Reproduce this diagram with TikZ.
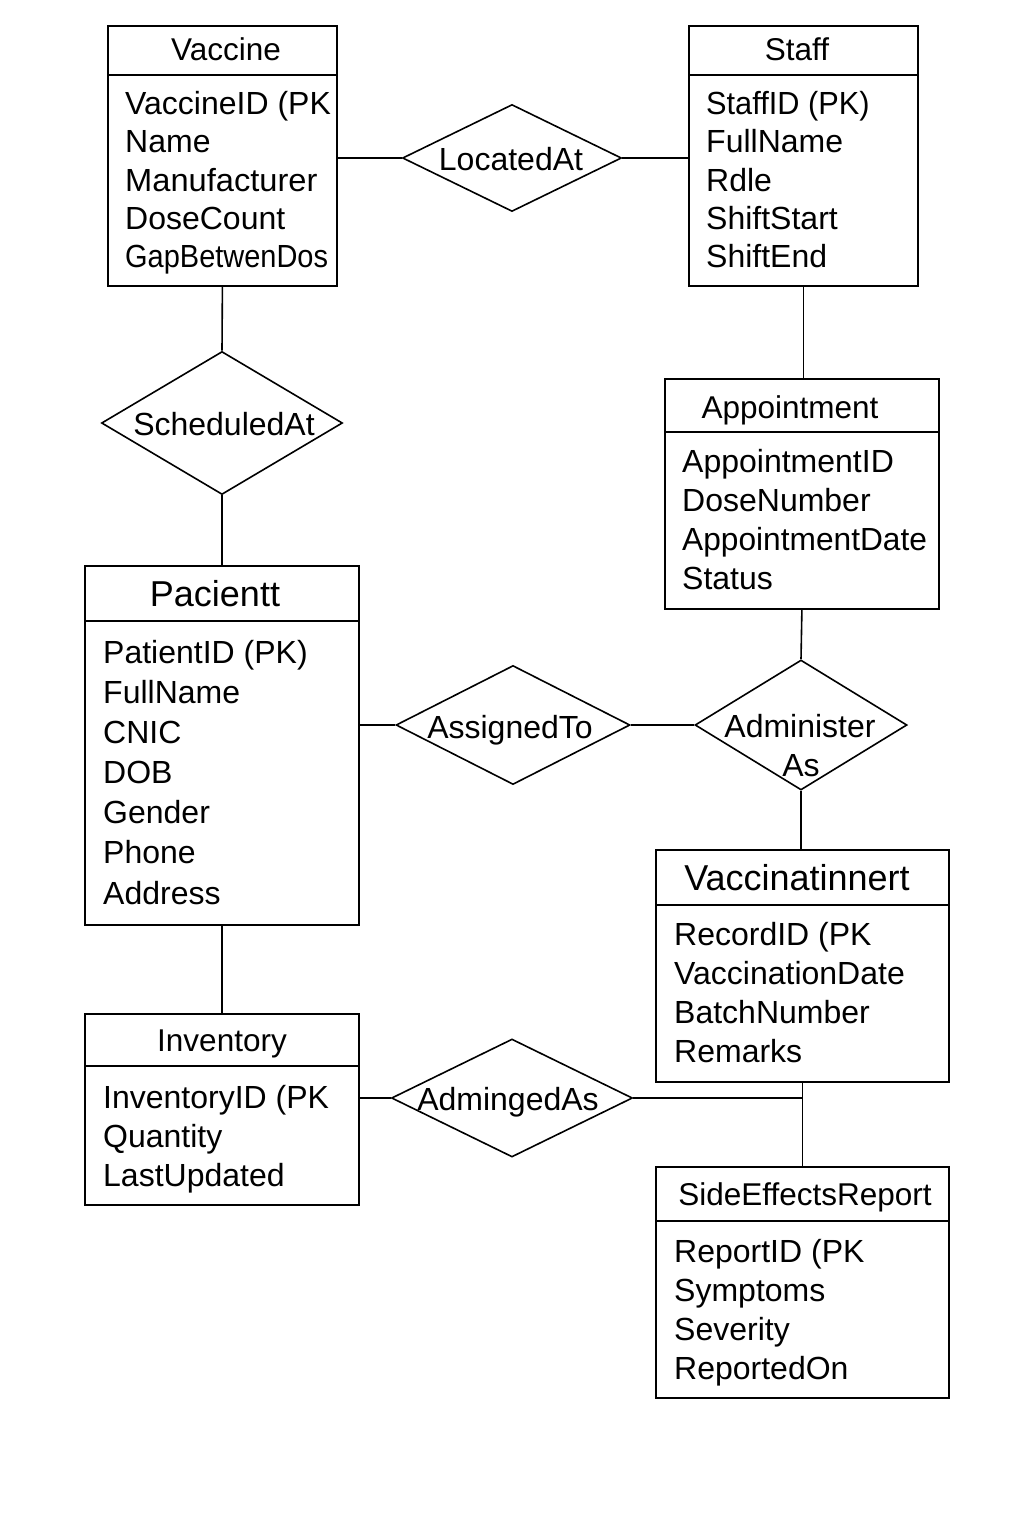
\documentclass[tikz,border=0pt]{standalone}
\usepackage{fontspec}
\setmainfont{Liberation Sans}
\usetikzlibrary{shapes.geometric}
\begin{document}
\begin{tikzpicture}[x=1pt,y=-1pt,
  ent/.style={draw, line width=1.8pt, rectangle, anchor=north west, inner sep=0pt},
  rel/.style={draw, line width=1.6pt, diamond, inner sep=0pt},
  attr/.style={anchor=base west, inner sep=0pt, font=\fontsize{32}{38}\selectfont},
  ttl/.style={anchor=base, inner sep=0pt, font=\fontsize{31.5}{38}\selectfont},
  bigttl/.style={anchor=base, inner sep=0pt, font=\fontsize{36}{42}\selectfont},
  lbl/.style={anchor=base, inner sep=0pt, font=\fontsize{32}{38}\selectfont},
  conn/.style={line width=1.6pt},
  divline/.style={line width=1.6pt}]
\fill[white] (0,0) rectangle (1024,1536);
\useasboundingbox (0,0) rectangle (1024,1536);

% ---------- Entities ----------
% Vaccine
\node[ent, minimum width=229pt, minimum height=260pt] (vac) at (107,25) {};
\draw[divline] (107,75) -- (336,75);
\node[ttl] (vact) at (226,61) {Vaccine};
\node[attr] (va1) at (125,115) {VaccineID (PK};
\node[attr] (va2) at (125,153) {Name};
\node[attr] (va3) at (125,191) {\scalebox{1.02}[1]{Manufacturer}};
\node[attr] (va4) at (125,229) {DoseCount};
\node[attr] (va5) at (125,267) {\scalebox{0.905}[1]{GapBetwenDos}};

% Staff
\node[ent, minimum width=229pt, minimum height=260pt] (stf) at (688,25) {};
\draw[divline] (688,75) -- (917,75);
\node[ttl] (stft) at (797,61) {Staff};
\node[attr] (st1) at (706,115) {\scalebox{0.96}[1]{StaffID (PK)}};
\node[attr] (st2) at (706,153) {FullName};
\node[attr] (st3) at (706,191) {Rdle};
\node[attr] (st4) at (706,229) {ShiftStart};
\node[attr] (st5) at (706,267) {ShiftEnd};

% Appointment
\node[ent, minimum width=274pt, minimum height=230pt] (app) at (664,378) {};
\draw[divline] (664,432) -- (938,432);
\node[ttl] (appt) at (790,418) {Appointment};
\node[attr] (ap1) at (682,472) {AppointmentID};
\node[attr] (ap2) at (682,511) {DoseNumber};
\node[attr] (ap3) at (682,550) {\scalebox{0.99}[1]{AppointmentDate}};
\node[attr] (ap4) at (682,589) {Status};

% Pacientt
\node[ent, minimum width=274pt, minimum height=359pt] (pat) at (84,565) {};
\draw[divline] (84,621) -- (358,621);
\node[bigttl] (patt) at (215,606) {Pacientt};
\node[attr] (pa1) at (103,663) {PatientID (PK)};
\node[attr] (pa2) at (103,703) {FullName};
\node[attr] (pa3) at (103,743) {CNIC};
\node[attr] (pa4) at (103,783) {DOB};
\node[attr] (pa5) at (103,823) {Gender};
\node[attr] (pa6) at (103,863) {Phone};
\node[attr] (pa7) at (103,904) {Address};

% Vaccinatinnert
\node[ent, minimum width=293pt, minimum height=232pt] (vcr) at (655,849) {};
\draw[divline] (655,905) -- (948,905);
\node[bigttl] (vcrt) at (797,890) {Vaccinatinnert};
\node[attr] (vr1) at (674,945) {RecordID (PK};
\node[attr] (vr2) at (674,984) {VaccinationDate};
\node[attr] (vr3) at (674,1023) {BatchNumber};
\node[attr] (vr4) at (674,1062) {Remarks};

% Inventory
\node[ent, minimum width=274pt, minimum height=191pt] (inv) at (84,1013) {};
\draw[divline] (84,1066) -- (358,1066);
\node[ttl] (invt) at (222,1051) {Inventory};
\node[attr] (in1) at (103,1108) {InventoryID (PK};
\node[attr] (in2) at (103,1147) {Quantity};
\node[attr] (in3) at (103,1186) {LastUpdated};

% SideEffectsReport
\node[ent, minimum width=293pt, minimum height=231pt] (ser) at (655,1166) {};
\draw[divline] (655,1221) -- (948,1221);
\node[ttl] (sert) at (805,1205) {SideEffectsReport};
\node[attr] (se1) at (674,1262) {ReportID (PK};
\node[attr] (se2) at (674,1301) {Symptoms};
\node[attr] (se3) at (674,1340) {Severity};
\node[attr] (se4) at (674,1379) {ReportedOn};

% ---------- Relationships ----------
\node[rel, minimum width=219pt, minimum height=107pt] (loc) at (512,158) {};
\node[lbl] (loct) at (511,170) {LocatedAt};

\node[rel, minimum width=241pt, minimum height=143pt] (sch) at (222,423) {};
\node[lbl] (scht) at (224,435) {ScheduledAt};

\node[rel, minimum width=234pt, minimum height=119pt] (asg) at (513,725) {};
\node[lbl] (asgt) at (510,738) {AssignedTo};

\node[rel, minimum width=212pt, minimum height=130pt] (adm) at (801,725) {};
\node[lbl] (admt1) at (800,737) {Administer};
\node[lbl] (admt2) at (801,776) {As};

\node[rel, minimum width=241pt, minimum height=118pt] (amg) at (512,1098) {};
\node[lbl] (amgt) at (508,1110) {AdmingedAs};

% ---------- Connectors ----------
\draw[conn] (loc.west -| vac.east) -- (loc.west);
\draw[conn] (loc.east) -- (loc.east -| stf.west);
\draw[conn] (vac.south) -- (sch.north);
\draw[conn] (sch.south) -- (sch.south |- pat.north);
\draw[conn] (stf.south) -- (stf.south |- app.north);
\draw[conn] (app.south) -- (adm.north);
\draw[conn] (asg.west -| pat.east) -- (asg.west);
\draw[conn] (asg.east) -- (adm.west);
\draw[conn] (adm.south) -- (adm.south |- vcr.north);
\draw[conn] (pat.south) -- (pat.south |- inv.north);
\draw[conn] (amg.west -| inv.east) -- (amg.west);
\draw[conn] (amg.east) -- (amg.east -| vcr.south);
\draw[conn] (vcr.south) -- (ser.north);
\end{tikzpicture}
\end{document}
